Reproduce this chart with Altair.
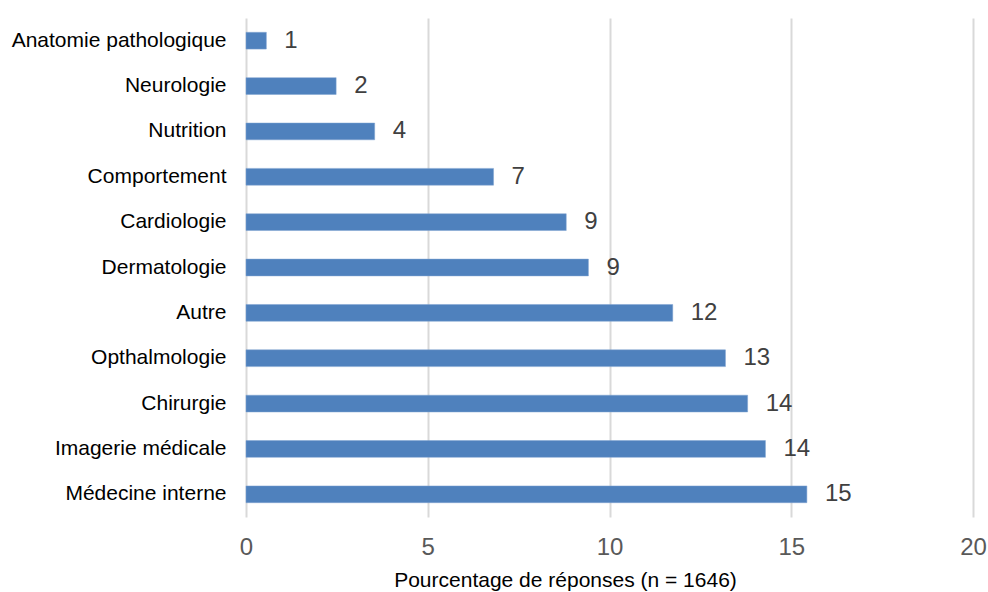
import altair as alt
import pandas as pd

# Survey: share of responses per specialty (%)
specialties = [
    "Anatomie pathologique",
    "Neurologie",
    "Nutrition",
    "Comportement",
    "Cardiologie",
    "Dermatologie",
    "Autre",
    "Opthalmologie",
    "Chirurgie",
    "Imagerie médicale",
    "Médecine interne",
]
percentages = [0.56, 2.48, 3.54, 6.81, 8.81, 9.42, 11.74, 13.19, 13.80, 14.29, 15.43]

df = pd.DataFrame({"specialite": specialties, "pct": percentages})

FONT = "Liberation Sans"
GRID = "#d9d9d9"

x_enc = alt.X(
    "pct:Q",
    scale=alt.Scale(domain=[0, 20], nice=False, zero=True),
    axis=alt.Axis(
        values=[0, 5, 10, 15, 20],
        title="Pourcentage de réponses (n = 1646)",
        grid=True,
        gridColor=GRID,
        gridWidth=2,
        domain=False,
        ticks=False,
        labelFlush=False,
        labelFont=FONT,
        labelFontSize=24,
        labelColor="#595959",
        labelPadding=18,
        titleFont=FONT,
        titleFontSize=21,
        titleFontWeight="normal",
        titleColor="#000000",
        titlePadding=10,
        titleX=319,
        titleAlign="center",
    ),
)

y_enc = alt.Y(
    "specialite:N",
    sort=specialties,
    scale=alt.Scale(paddingInner=0.63, paddingOuter=0.315),
    axis=alt.Axis(
        title=None,
        domain=False,
        ticks=False,
        grid=False,
        labelFont=FONT,
        labelFontSize=21,
        labelColor="#000000",
        labelPadding=20,
        labelLimit=400,
    ),
)

bars = alt.Chart(df).mark_bar(color="#4f81bd", stroke="#7ea3d1", strokeWidth=0.5).encode(
    x=x_enc, y=y_enc
)

labels = alt.Chart(df).mark_text(
    align="left", baseline="middle", dx=18, font=FONT, fontSize=24, color="#404040"
).encode(
    x="pct:Q",
    y=alt.Y("specialite:N", sort=specialties),
    text=alt.Text("pct:Q", format=".0f"),
)

chart = (
    alt.layer(bars, labels)
    .properties(
        width=727,
        height=499,
        autosize=alt.AutoSizeParams(type="none"),
        padding={"left": 246, "top": 18, "right": 15, "bottom": 75},
        background="white",
    )
    .configure_view(stroke=None)
)

chart.save("out.html", embed_options={"renderer": "svg", "actions": False})
